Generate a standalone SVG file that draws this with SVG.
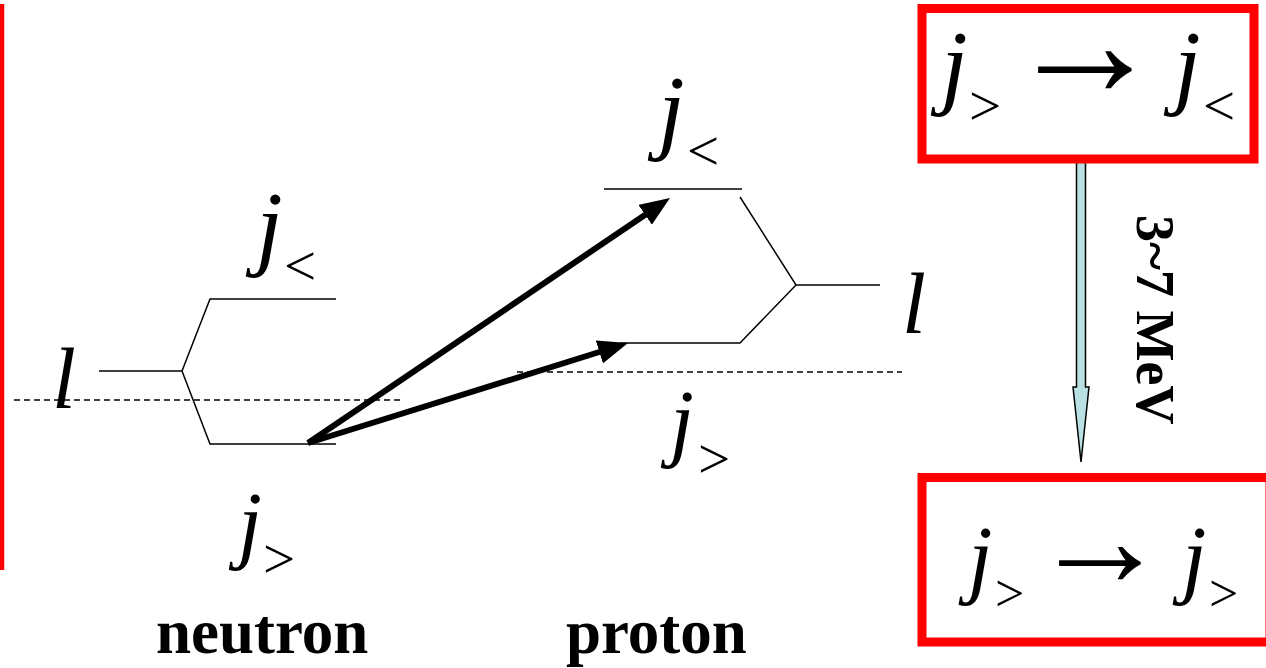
<svg xmlns="http://www.w3.org/2000/svg" width="1266" height="668" viewBox="0 0 1266 668">
<style>
.it{font-family:"Liberation Serif","Times New Roman",serif;font-style:italic;fill:#000}
.rm{font-family:"Liberation Serif","Times New Roman",serif;font-style:normal;fill:#000}
.bd{font-family:"Liberation Serif","Times New Roman",serif;font-weight:bold;fill:#000}
.thin{stroke:#000;stroke-width:1.5;fill:none}
.dash{stroke:#000;stroke-width:1.5;fill:none;stroke-dasharray:6 4}
.thick{stroke:#000;stroke-width:6;fill:none;marker-end:url(#ah)}
.box{fill:#fff;stroke:#ff0000;stroke-width:9}
</style>
<defs>
<marker id="ah" markerUnits="userSpaceOnUse" viewBox="0 -12 30 24" refX="10" refY="0" markerWidth="30" markerHeight="24" orient="auto">
<path d="M0,-12 L30,0 L0,12 z" fill="#000"/>
</marker>
</defs>
<rect width="1266" height="668" fill="#fff"/>
<line x1="2" y1="4" x2="2" y2="570" stroke="#ff0000" stroke-width="4.5"/>

<g id="neutron">
<path class="thin" d="M99,371 H182 L210,299 H336 M182,371 L210,444 H336"/>
<line class="dash" x1="14" y1="400" x2="400" y2="400"/>
<text class="it" x="52" y="408" font-size="86">l</text>
<text class="it"><tspan x="256" y="258" font-size="96">j</tspan><tspan class="rm" x="284" y="285" font-size="57">&lt;</tspan></text>
<text class="it"><tspan x="238" y="552" font-size="86">j</tspan><tspan class="rm" x="263" y="578" font-size="57">&gt;</tspan></text>
<text class="bd" x="156" y="653" font-size="63">neutron</text>
</g>

<g id="proton">
<path class="thin" d="M604,189 H742 M740,197 L796,285 H880 M796,285 L740,343 H620"/>
<line class="dash" x1="517" y1="372" x2="902" y2="372"/>
<text class="it" x="902" y="333" font-size="86">l</text>
<text class="it"><tspan x="658" y="142" font-size="96">j</tspan><tspan class="rm" x="687" y="170" font-size="57">&lt;</tspan></text>
<text class="it"><tspan x="670" y="450" font-size="86">j</tspan><tspan class="rm" x="698" y="478" font-size="57">&gt;</tspan></text>
<text class="bd" x="566" y="653" font-size="63">proton</text>
</g>

<g id="connectors">
<path class="thick" d="M308,443 L653.4,209.2"/>
<path class="thick" d="M308,443 L608.9,349"/>
<polygon points="1076.5,160 1085.5,160 1085.5,387 1089,387 1081,462 1073,387 1076.5,387" fill="#b9e0e2" stroke="#000" stroke-width="1.5"/>
<text class="bd" font-size="54" transform="translate(1137,215) rotate(90)">3~7 MeV</text>
</g>

<g id="box-top">
<rect class="box" x="922" y="8.5" width="332" height="150.5"/>
<text class="it"><tspan x="941" y="97" font-size="96">j</tspan><tspan class="rm" x="969" y="125" font-size="57">&gt;</tspan></text>
<text class="rm" x="1085" y="96" font-size="158" text-anchor="middle">→</text>
<text class="it"><tspan x="1174" y="97" font-size="96">j</tspan><tspan class="rm" x="1203" y="125" font-size="57">&lt;</tspan></text>
</g>

<g id="box-bottom">
<rect class="box" x="922" y="477.5" width="348" height="164.5"/>
<text class="it"><tspan x="968" y="587" font-size="88">j</tspan><tspan class="rm" x="995" y="611" font-size="52">&gt;</tspan></text>
<text class="rm" x="1100" y="586" font-size="138" text-anchor="middle">→</text>
<text class="it"><tspan x="1182" y="587" font-size="88">j</tspan><tspan class="rm" x="1209" y="611" font-size="52">&gt;</tspan></text>
</g>
</svg>
